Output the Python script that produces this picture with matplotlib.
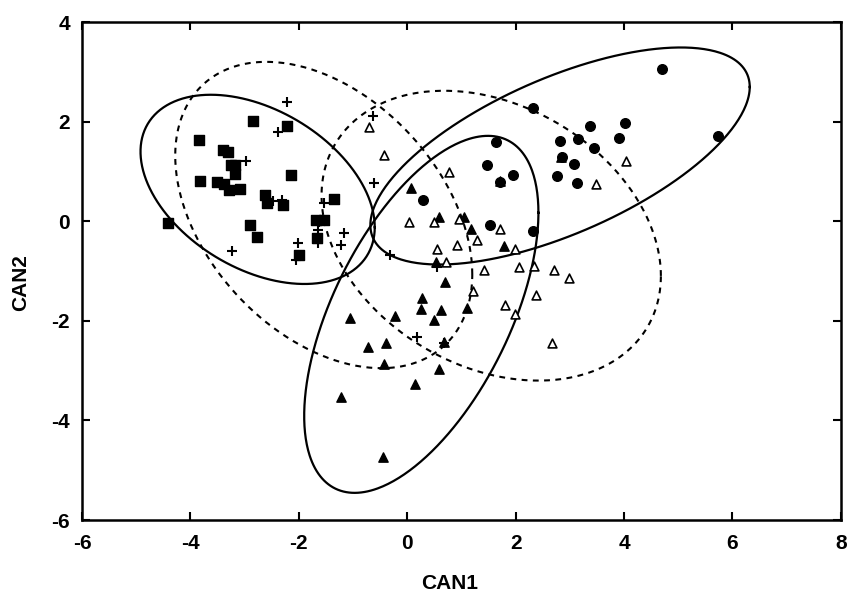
import numpy as np
import matplotlib
matplotlib.use('Agg')
import matplotlib.pyplot as plt

plt.rcParams['font.family'] = ['Liberation Sans', 'DejaVu Sans']
plt.rcParams['font.weight'] = 'bold'
plt.rcParams['axes.unicode_minus'] = False

# group points (CAN1, CAN2)
sq_x = [-2.84, -2.22, -3.84, -3.39, -3.31, -3.25, -3.17, -3.18, -2.15, -3.83, -3.51, -3.38, -3.28,
        -3.08, -2.63, -2.59, -2.29, -1.36, -4.42, -2.90, -2.78, -1.69, -1.53, -1.66, -1.99]
sq_y = [2.02, 1.92, 1.63, 1.43, 1.39, 1.12, 1.12, 0.95, 0.92, 0.81, 0.79, 0.74, 0.63,
        0.64, 0.52, 0.37, 0.33, 0.45, -0.04, -0.07, -0.31, 0.03, 0.03, -0.33, -0.68]

plus_x = [-2.22, -2.39, -2.98, -0.63, -0.62, -2.48, -2.31, -1.53, -1.63, -1.17, -1.23, -1.64,
          -1.64, -2.01, -2.06, -3.24, -0.32, 0.18, 0.55, 0.68]
plus_y = [2.40, 1.80, 1.21, 2.12, 0.76, 0.40, 0.43, 0.36, -0.02, -0.24, -0.47, -0.17,
          -0.44, -0.44, -0.78, -0.60, -0.68, -2.32, -0.92, -2.45]

tri_x = [0.07, 0.58, 1.04, 1.17, 1.71, 1.78, 2.84, 0.53, 0.69, 0.28, 0.26, 0.63, 0.50, 1.10,
         -1.06, -0.23, -0.72, -0.39, 0.68, -0.42, 0.58, 0.14, -1.22, -0.45]
tri_y = [0.67, 0.09, 0.09, -0.16, 0.80, -0.49, 1.30, -0.81, -1.23, -1.55, -1.77, -1.79, -1.98, -1.74,
         -1.95, -1.90, -2.52, -2.45, -2.43, -2.87, -2.97, -3.26, -3.53, -4.74]

otri_x = [-0.71, -0.42, 0.77, 0.03, 0.49, 0.95, 1.29, 0.92, 0.55, 1.71, 1.98, 0.72, 1.41, 2.06,
          2.34, 2.70, 2.99, 1.22, 2.38, 1.81, 1.99, 2.67, 3.48, 4.04]
otri_y = [1.90, 1.33, 0.99, -0.02, -0.02, 0.05, -0.37, -0.47, -0.56, -0.16, -0.55, -0.82, -0.98, -0.91,
          -0.89, -0.98, -1.13, -1.40, -1.49, -1.69, -1.86, -2.45, 0.74, 1.21]

circ_x = [2.33, 1.64, 1.48, 1.71, 1.96, 0.29, 1.53, 2.32, 2.82, 3.16, 3.38, 3.44, 2.86, 3.08,
          2.77, 3.13, 3.91, 4.02, 4.70, 5.74]
circ_y = [2.28, 1.60, 1.12, 0.78, 0.92, 0.42, -0.08, -0.19, 1.62, 1.65, 1.92, 1.47, 1.30, 1.15,
          0.91, 0.76, 1.67, 1.97, 3.05, 1.71]

# ellipses: centre x, centre y, var x, var y, cov xy
ell_cx = [-2.76, 2.82, 0.26, -1.54, 1.55]
ell_cy = [0.64, 1.31, -1.87, 0.125, -0.29]
ell_vx = [4.67, 12.25, 4.67, 7.51, 9.80]
ell_vy = [3.61, 4.75, 12.85, 9.46, 8.47]
ell_cv = [-1.64, 4.85, 4.41, -3.26, -2.53]
ell_dashed = [False, False, False, True, True]

fig = plt.figure(figsize=(8.51, 5.96), dpi=100)
ax = fig.add_axes([0.0964, 0.1275, 0.8916, 0.8355])

t = np.linspace(0, 2 * np.pi, 400)
for cx, cy, vx, vy, cv, dsh in zip(ell_cx, ell_cy, ell_vx, ell_vy, ell_cv, ell_dashed):
    L = np.linalg.cholesky(np.array([[vx, cv], [cv, vy]]))
    pts = L @ np.vstack([np.cos(t), np.sin(t)])
    if dsh:
        ax.plot(cx + pts[0], cy + pts[1], color='black', lw=1.5, dashes=(2.8, 2.6))
    else:
        ax.plot(cx + pts[0], cy + pts[1], color='black', lw=1.6)

ax.scatter(sq_x, sq_y, marker='s', s=45, color='black', zorder=3)
ax.scatter(plus_x, plus_y, marker='+', s=55, color='black', linewidths=1.5, zorder=3)
ax.scatter(tri_x, tri_y, marker='^', s=45, color='black', zorder=3)
ax.scatter(otri_x, otri_y, marker='^', s=40, facecolors='white', edgecolors='black',
           linewidths=1.2, zorder=3)
ax.scatter(circ_x, circ_y, marker='o', s=48, color='black', zorder=3)

ax.set_xlim(-6, 8)
ax.set_ylim(-6, 4)
ax.set_xticks(range(-6, 9, 2))
ax.set_yticks(range(-6, 5, 2))
ax.tick_params(direction='in', length=6, width=1.5, top=True, right=True, labelsize=15)
ax.tick_params(axis='x', pad=10)
ax.tick_params(axis='y', pad=8.5)
for sp in ax.spines.values():
    sp.set_linewidth(1.8)
ax.set_xlabel('CAN1', fontsize=15, fontweight='bold')
ax.set_ylabel('CAN2', fontsize=15, fontweight='bold')
ax.xaxis.set_label_coords(0.485, -0.108)
ax.yaxis.set_label_coords(-0.068, 0.476)

fig.savefig('out.png', dpi=100)
